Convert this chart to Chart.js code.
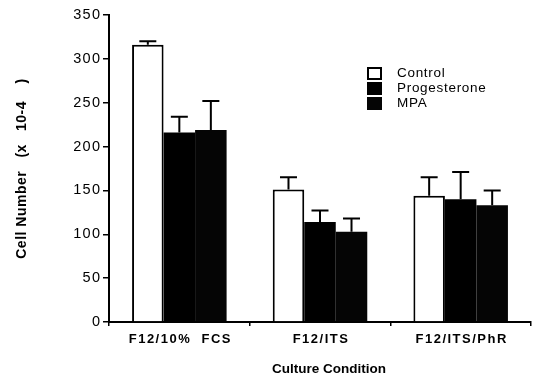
<!DOCTYPE html>
<html>
<head>
<meta charset="utf-8">
<script src="https://cdn.jsdelivr.net/npm/chart.js@4/dist/chart.umd.min.js"></script>
<style>
  html, body { margin: 0; padding: 0; background: #fff; }
  #wrap { width: 534px; height: 379px; }
</style>
</head>
<body>
<div id="wrap"><canvas id="c" width="534" height="379"></canvas></div>
<script>
const categories = ["F12/10%  FCS", "F12/ITS", "F12/ITS/PhR"];
const seriesNames = ["Control", "Progesterone", "MPA"];
const control = [316, 151, 144];
const progesterone = [216, 114, 140];
const mpa = [219, 103, 133];
const controlErr = [4, 14, 21];
const progesteroneErr = [18, 13, 31];
const mpaErr = [33, 15, 17];
const yTicks = [0, 50, 100, 150, 200, 250, 300, 350];

const errors = [controlErr, progesteroneErr, mpaErr];
const FONT = '"Liberation Sans", Arial, Helvetica, sans-serif';

const errorBarPlugin = {
  id: 'errorBars',
  afterDatasetsDraw(chart) {
    const ctx = chart.ctx;
    const y = chart.scales.y;
    ctx.save();
    ctx.strokeStyle = '#000';
    ctx.lineWidth = 2;
    chart.data.datasets.forEach((ds, i) => {
      const meta = chart.getDatasetMeta(i);
      meta.data.forEach((el, j) => {
        const v = ds.data[j];
        const e = errors[i][j];
        const top = y.getPixelForValue(v + e);
        const base = el.y;
        ctx.beginPath();
        ctx.moveTo(el.x, base);
        ctx.lineTo(el.x, top);
        ctx.moveTo(el.x - 8.5, top);
        ctx.lineTo(el.x + 8.5, top);
        ctx.stroke();
      });
    });
    ctx.restore();
  }
};

const legendPlugin = {
  id: 'insideLegend',
  afterDraw(chart) {
    const ctx = chart.ctx;
    ctx.save();
    const boxX = 367, boxW = 15, boxH = 13;
    const boxYs = [67, 82, 97];
    const textYs = [73.5, 88.5, 103.5];
    chart.data.datasets.forEach((ds, i) => {
      if (ds.backgroundColor === '#ffffff') {
        ctx.fillStyle = '#fff';
        ctx.fillRect(boxX, boxYs[i], boxW, boxH);
        ctx.strokeStyle = '#000';
        ctx.lineWidth = 2;
        ctx.strokeRect(boxX + 1, boxYs[i] + 1, boxW - 2, boxH - 2);
      } else {
        ctx.fillStyle = ds.backgroundColor;
        ctx.fillRect(boxX, boxYs[i], boxW, boxH);
      }
      ctx.fillStyle = '#000';
      ctx.font = '13.5px ' + FONT;
      ctx.letterSpacing = '0.7px';
      ctx.textAlign = 'left';
      ctx.textBaseline = 'middle';
      ctx.fillText(ds.label, 397, textYs[i]);
    });
    ctx.restore();
  }
};

function wrap(scale, name, fn) {
  const orig = scale[name];
  scale[name] = function (...args) {
    const c = this.ctx;
    c.save();
    fn(c);
    orig.apply(this, args);
    c.restore();
  };
}

const spacingPlugin = {
  id: 'textSpacing',
  beforeDraw(chart) {
    const sx = chart.scales.x, sy = chart.scales.y;
    if (sx && !sx._wrapped) {
      wrap(sx, 'drawLabels', c => { c.letterSpacing = '1.5px'; c.translate(1, 0); });
      wrap(sx, 'drawTitle', c => { c.translate(9, 0); });
      sx._wrapped = true;
    }
    if (sy && !sy._wrapped) {
      wrap(sy, 'drawLabels', c => { c.letterSpacing = '1.3px'; c.translate(1.3, 0); });
      wrap(sy, 'drawTitle', c => { c.letterSpacing = '0.5px'; });
      sy._wrapped = true;
    }
  }
};

new Chart(document.getElementById('c'), {
  type: 'bar',
  data: {
    labels: categories,
    datasets: [
      { label: seriesNames[0], data: control, backgroundColor: '#ffffff', borderColor: '#000', borderWidth: 2 },
      { label: seriesNames[1], data: progesterone, backgroundColor: '#000000', borderColor: '#000', borderWidth: 0 },
      { label: seriesNames[2], data: mpa, backgroundColor: '#050505', borderColor: '#000', borderWidth: 0 }
    ]
  },
  options: {
    responsive: false,
    animation: false,
    devicePixelRatio: 1,
    layout: { padding: { top: 15, right: 3, left: 0, bottom: 0 } },
    plugins: { legend: { display: false }, tooltip: { enabled: false } },
    datasets: { bar: { categoryPercentage: 0.672, barPercentage: 1.0 } },
    scales: {
      x: {
        type: 'category',
        offset: true,
        grid: { offset: true, drawOnChartArea: false, drawTicks: true, tickLength: 4, color: '#000', lineWidth: 1.5 },
        border: { display: true, color: '#000', width: 2 },
        ticks: { color: '#000', font: { family: FONT, size: 13, weight: 'bold' }, padding: 6, maxRotation: 0, autoSkip: false },
        title: { display: true, text: 'Culture Condition', color: '#000', font: { family: FONT, size: 13.5, weight: 'bold' }, padding: { top: 0, bottom: 2 } },
        afterFit(scale) { scale.height = 57; }
      },
      y: {
        min: 0, max: 350,
        afterBuildTicks(scale) { scale.ticks = yTicks.map(v => ({ value: v })); },
        grid: { drawOnChartArea: false, drawTicks: true, tickLength: 6, color: '#000', lineWidth: 1.5 },
        border: { display: true, color: '#000', width: 2 },
        ticks: { color: '#000', font: { family: FONT, size: 14.5 }, padding: 3 },
        title: { display: true, text: 'Cell Number   (x   10-4    )', color: '#000', font: { family: FONT, size: 14, weight: 'bold' }, padding: { top: 14, bottom: 0 } },
        afterFit(scale) { scale.width = 109; }
      }
    }
  },
  plugins: [errorBarPlugin, legendPlugin, spacingPlugin]
});
</script>
</body>
</html>
